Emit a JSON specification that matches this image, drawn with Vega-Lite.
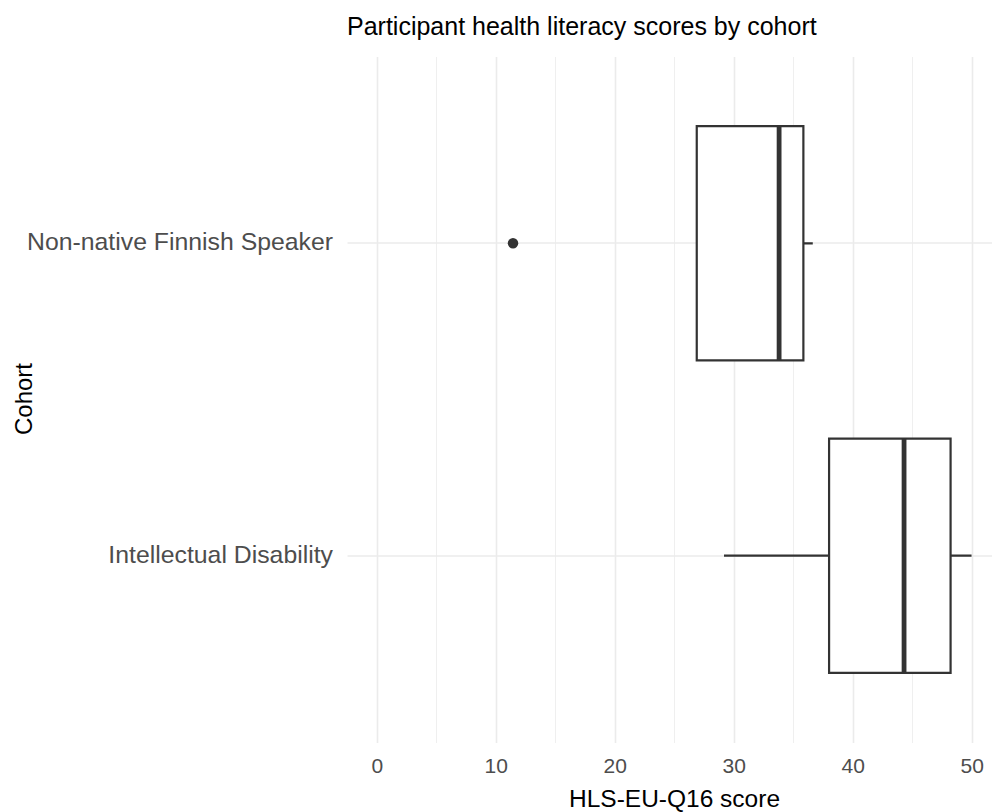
{
  "$schema": "https://vega.github.io/schema/vega-lite/v6.json",
  "width": 645,
  "height": 686,
  "autosize": {"type": "none"},
  "padding": {"left": 347, "top": 56.5, "right": 0, "bottom": 69.5},
  "background": "white",
  "config": {"view": {"stroke": null}, "font": "Liberation Sans"},
  "title": {
    "text": "Participant health literacy scores by cohort",
    "anchor": "start",
    "frame": "group",
    "font": "Liberation Sans",
    "fontSize": 25,
    "fontWeight": "normal",
    "color": "#000000",
    "baseline": "alphabetic",
    "offset": 21.5,
    "dy": 25
  },
  "datasets": {
    "stats": [
      {"cohort": "Non-native Finnish Speaker", "lower": 26.89, "q1": 26.89, "median": 33.81, "q3": 35.85, "upper": 36.64},
      {"cohort": "Intellectual Disability", "lower": 29.18, "q1": 38.01, "median": 44.31, "q3": 48.22, "upper": 49.98}
    ],
    "outliers": [
      {"cohort": "Non-native Finnish Speaker", "score": 11.45}
    ]
  },
  "layer": [
    {
      "data": {"name": "stats"},
      "mark": {"type": "rule", "color": "#333333", "strokeWidth": 2.2},
      "encoding": {
        "y": {
          "field": "cohort", "type": "nominal",
          "sort": ["Non-native Finnish Speaker", "Intellectual Disability"],
          "scale": {"paddingInner": 0.25, "paddingOuter": 0.2228},
          "axis": {
            "grid": true, "gridColor": "#EBEBEB", "gridWidth": 1.6, "bandPosition": 0.5,
            "domain": false, "ticks": false, "tickSize": 0,
            "labelFont": "Liberation Sans", "labelFontSize": 24.8, "labelColor": "#4D4D4D",
            "labelPadding": 14.5, "labelBaseline": "middle", "labelLimit": 500,
            "title": "Cohort", "titleFont": "Liberation Sans", "titleFontSize": 24,
            "titleFontWeight": "normal", "titleColor": "#000000",
            "titleX": -316, "titleY": 342, "titleAngle": -90,
            "titleBaseline": "alphabetic", "titleAlign": "center"
          }
        },
        "x": {
          "field": "lower", "type": "quantitative",
          "scale": {"domain": [-2.5, 51.7], "nice": false, "zero": false},
          "axis": {
            "orient": "bottom", "values": [0, 10, 20, 30, 40, 50],
            "grid": true, "gridColor": "#EBEBEB", "gridWidth": 1.6,
            "domain": false, "ticks": false, "tickSize": 0,
            "labelFont": "Liberation Sans", "labelFontSize": 21, "labelColor": "#4D4D4D",
            "labelBaseline": "alphabetic", "labelPadding": 30, "labelFlush": false, "labelOverlap": false,
            "title": "HLS-EU-Q16 score", "titleFont": "Liberation Sans", "titleFontSize": 24.5,
            "titleFontWeight": "normal", "titleColor": "#000000",
            "titleBaseline": "alphabetic", "titleAlign": "center", "titleX": 327, "titleY": 64
          }
        },
        "x2": {"field": "upper"}
      }
    },
    {
      "data": {"name": "stats"},
      "mark": {"type": "bar", "fill": "#FFFFFF", "stroke": "#333333", "strokeWidth": 2.2},
      "encoding": {
        "y": {"field": "cohort", "type": "nominal", "sort": ["Non-native Finnish Speaker", "Intellectual Disability"]},
        "x": {
          "field": "q1", "type": "quantitative",
          "axis": {
            "orient": "top", "values": [5, 15, 25, 35, 45],
            "grid": true, "gridColor": "#EBEBEB", "gridWidth": 0.8,
            "labels": false, "ticks": false, "domain": false, "title": null
          }
        },
        "x2": {"field": "q3"}
      }
    },
    {
      "data": {"name": "stats"},
      "mark": {"type": "tick", "color": "#333333", "thickness": 4.8, "size": 234, "opacity": 1},
      "encoding": {
        "y": {"field": "cohort", "type": "nominal", "sort": ["Non-native Finnish Speaker", "Intellectual Disability"]},
        "x": {"field": "median", "type": "quantitative", "axis": null}
      }
    },
    {
      "data": {"name": "outliers"},
      "mark": {"type": "point", "filled": true, "color": "#333333", "size": 110, "opacity": 1},
      "encoding": {
        "y": {"field": "cohort", "type": "nominal", "sort": ["Non-native Finnish Speaker", "Intellectual Disability"]},
        "x": {"field": "score", "type": "quantitative", "axis": null}
      }
    }
  ],
  "resolve": {"axis": {"x": "independent"}}
}
